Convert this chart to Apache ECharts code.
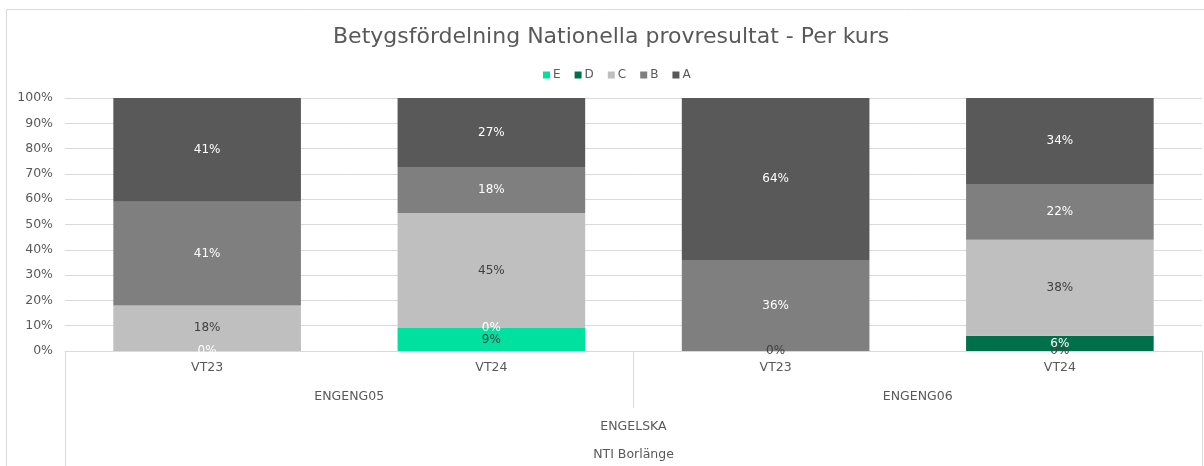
<!DOCTYPE html>
<html><head><meta charset="utf-8">
<script src="https://cdn.jsdelivr.net/npm/echarts@6/dist/echarts.min.js"></script>
<style>html,body{margin:0;padding:0;background:#fff}#c{width:1204px;height:466px}</style>
</head><body><div id="c"></div>
<script>
const terms = ['VT23', 'VT24', 'VT23', 'VT24'];
const courses = ['ENGENG05', 'ENGENG06'];
const subjects = ['ENGELSKA'];
const schools = ['NTI Borlänge'];
const seriesNames = ['E', 'D', 'C', 'B', 'A'];
const valE = [null, 9.09, null, 0];
const valD = [0, 0, null, 6];
const valC = [18, 45.45, 0, 38];
const valB = [41, 18.18, 36, 22];
const valA = [41, 27.27, 64, 34];
const yTicks = [0, 10, 20, 30, 40, 50, 60, 70, 80, 90, 100];

const colors = ['#00e09e', '#00704a', '#bfbfbf', '#7f7f7f', '#595959'];
const labelColors = ['#404040', '#ffffff', '#404040', '#ffffff', '#ffffff'];
const vals = [valE, valD, valC, valB, valA];
const FONT = '"DejaVu Sans", sans-serif';
const TXT = '#595959';
const GRID_L = 65, GRID_R = 2, GRID_T = 98, GRID_B = 115;

const chart = echarts.init(document.getElementById('c'));
chart.setOption({
  animation: false,
  textStyle: { fontFamily: FONT },
  title: {
    text: 'Betygsfördelning Nationella provresultat - Per kurs',
    left: 328, top: 21,
    textStyle: { fontFamily: FONT, fontSize: 22, fontWeight: 'normal', color: TXT }
  },
  legend: {
    top: 64, left: 538,
    data: seriesNames,
    itemWidth: 7, itemHeight: 7, itemGap: 14,
    icon: 'rect',
    textStyle: { fontFamily: FONT, fontSize: 12, color: TXT, padding: [0, 0, 0, -2] }
  },
  graphic: [
    { type: 'polyline', shape: { points: [[6.5, 466], [6.5, 9.5], [1204, 9.5]] }, style: { stroke: '#d9d9d9', lineWidth: 1, fill: null } }
  ],
  grid: { left: GRID_L, right: GRID_R, top: GRID_T, bottom: GRID_B },
  xAxis: [
    {
      type: 'category', data: terms, position: 'bottom',
      axisLine: { show: true, lineStyle: { color: '#d9d9d9' } },
      axisTick: { show: false },
      axisLabel: { color: TXT, fontSize: 12.5, margin: 10, fontFamily: FONT }
    },
    {
      type: 'category', data: courses, position: 'bottom',
      axisLine: { show: false },
      axisTick: { show: true, length: 57, interval: 0, lineStyle: { color: '#d9d9d9' } },
      axisLabel: { color: TXT, fontSize: 12.5, margin: 39, fontFamily: FONT }
    },
    {
      type: 'category', data: subjects, position: 'bottom',
      axisLine: { show: false },
      axisTick: { show: true, length: 120, interval: 0, lineStyle: { color: '#d9d9d9' } },
      axisLabel: { color: TXT, fontSize: 12.5, margin: 69, fontFamily: FONT }
    },
    {
      type: 'category', data: schools, position: 'bottom',
      axisLine: { show: false },
      axisTick: { show: false },
      axisLabel: { color: TXT, fontSize: 12.5, margin: 97, fontFamily: FONT }
    }
  ],
  yAxis: {
    type: 'value', min: yTicks[0], max: yTicks[yTicks.length - 1], interval: 10,
    axisLine: { show: false }, axisTick: { show: false },
    splitLine: { lineStyle: { color: '#d9d9d9' } },
    axisLabel: { formatter: '{value}%', color: TXT, fontSize: 12.5, margin: 12, fontFamily: FONT }
  },
  series: seriesNames.map((n, i) => ({
    name: n, type: 'bar', stack: 'total', xAxisIndex: 0,
    barWidth: '66%',
    data: vals[i].map(v => v === null ? '-' : v),
    itemStyle: { color: colors[i] },
    label: {
      show: true, position: 'inside',
      formatter: p => Math.round(p.value) + '%',
      color: labelColors[i], fontSize: 12, fontFamily: FONT
    }
  }))
});
</script></body></html>
